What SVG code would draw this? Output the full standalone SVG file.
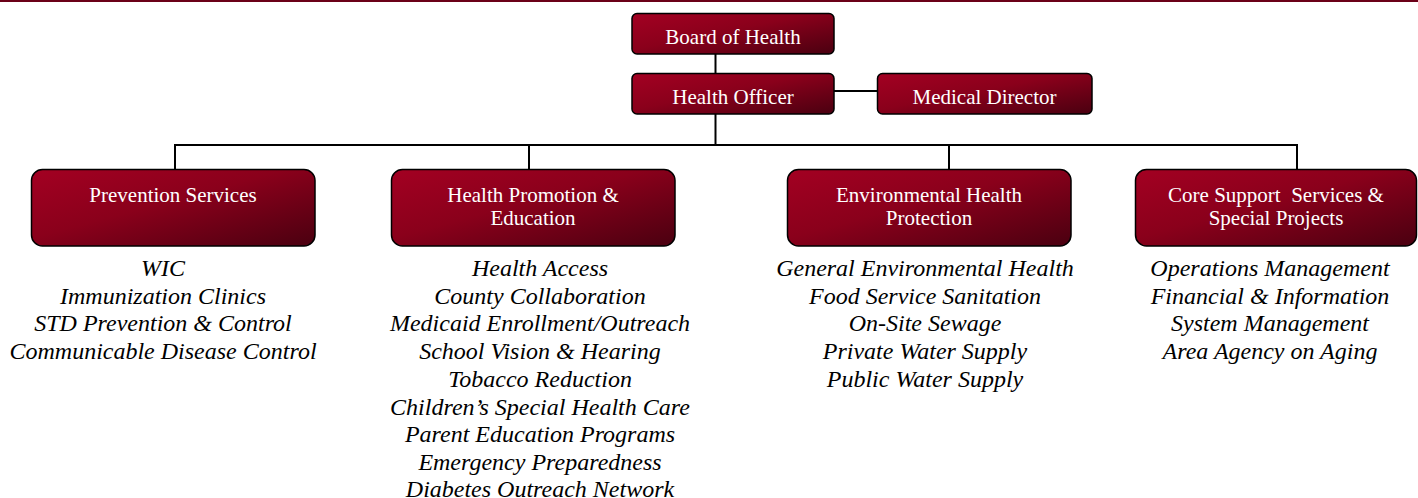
<svg xmlns="http://www.w3.org/2000/svg" width="1418" height="498" viewBox="0 0 1418 498">
<defs>
<linearGradient id="g" x1="0" y1="0" x2="1" y2="1">
<stop offset="0" stop-color="#a30022"/>
<stop offset="0.45" stop-color="#8a001b"/>
<stop offset="1" stop-color="#4a0010"/>
</linearGradient>
</defs>
<style>
.box{fill:url(#g);stroke:#000;stroke-width:1.5}
.t{font-family:"Liberation Serif","Times New Roman",serif;font-size:21px;fill:#fff;text-anchor:middle}
.l{font-family:"Liberation Serif","Times New Roman",serif;font-size:24px;font-style:italic;fill:#000;text-anchor:middle}
.c{stroke:#000;stroke-width:2;fill:none}
</style>
<rect x="0" y="0" width="1418" height="2" fill="#6b0018"/>
<g id="connectors">
<line class="c" x1="715.5" y1="54" x2="715.5" y2="73"/>
<line class="c" x1="834" y1="91" x2="877" y2="91"/>
<line class="c" x1="715.5" y1="114" x2="715.5" y2="145"/>
<line class="c" x1="174" y1="145" x2="1298" y2="145"/>
<line class="c" x1="175" y1="145" x2="175" y2="169"/>
<line class="c" x1="529" y1="145" x2="529" y2="169"/>
<line class="c" x1="949" y1="145" x2="949" y2="169"/>
<line class="c" x1="1297" y1="145" x2="1297" y2="169"/>
</g>
<g id="board">
<rect class="box" x="632" y="13.5" width="202" height="40.5" rx="5"/>
<text class="t" x="733" y="44">Board of Health</text>
</g>
<g id="officer">
<rect class="box" x="632" y="73.5" width="202" height="40.5" rx="5"/>
<text class="t" x="733" y="104">Health Officer</text>
</g>
<g id="medical">
<rect class="box" x="877.5" y="73.5" width="214.5" height="40.5" rx="5"/>
<text class="t" x="984.5" y="104">Medical Director</text>
</g>
<g id="prevention">
<rect class="box" x="31.5" y="169.5" width="283.5" height="76.5" rx="11"/>
<text class="t" x="173" y="202">Prevention Services</text>
<text class="l"><tspan x="163" y="276">WIC</tspan><tspan x="163" y="303.7">Immunization Clinics</tspan><tspan x="163" y="331.4">STD Prevention &amp; Control</tspan><tspan x="163" y="359.1">Communicable Disease Control</tspan></text>
</g>
<g id="promotion">
<rect class="box" x="391.5" y="169.5" width="283.5" height="76.5" rx="11"/>
<text class="t"><tspan x="533" y="202">Health Promotion &amp;</tspan><tspan x="533" y="225">Education</tspan></text>
<text class="l"><tspan x="540" y="276">Health Access</tspan><tspan x="540" y="303.7">County Collaboration</tspan><tspan x="540" y="331.4">Medicaid Enrollment/Outreach</tspan><tspan x="540" y="359.1">School Vision &amp; Hearing</tspan><tspan x="540" y="386.8">Tobacco Reduction</tspan><tspan x="540" y="414.5">Children’s Special Health Care</tspan><tspan x="540" y="442.2">Parent Education Programs</tspan><tspan x="540" y="469.9">Emergency Preparedness</tspan><tspan x="540" y="497.4">Diabetes Outreach Network</tspan></text>
</g>
<g id="environmental">
<rect class="box" x="787.5" y="169.5" width="283.5" height="76.5" rx="11"/>
<text class="t"><tspan x="929" y="202">Environmental Health</tspan><tspan x="929" y="225">Protection</tspan></text>
<text class="l"><tspan x="925" y="276">General Environmental Health</tspan><tspan x="925" y="303.7">Food Service Sanitation</tspan><tspan x="925" y="331.4">On-Site Sewage</tspan><tspan x="925" y="359.1">Private Water Supply</tspan><tspan x="925" y="386.8">Public Water Supply</tspan></text>
</g>
<g id="core">
<rect class="box" x="1135.5" y="169.5" width="281" height="76.5" rx="11"/>
<text class="t" style="white-space:pre"><tspan x="1276" y="202">Core Support  Services &amp;</tspan><tspan x="1276" y="225">Special Projects</tspan></text>
<text class="l"><tspan x="1270" y="276">Operations Management</tspan><tspan x="1270" y="303.7">Financial &amp; Information</tspan><tspan x="1270" y="331.4">System Management</tspan><tspan x="1270" y="359.1">Area Agency on Aging</tspan></text>
</g>
</svg>
